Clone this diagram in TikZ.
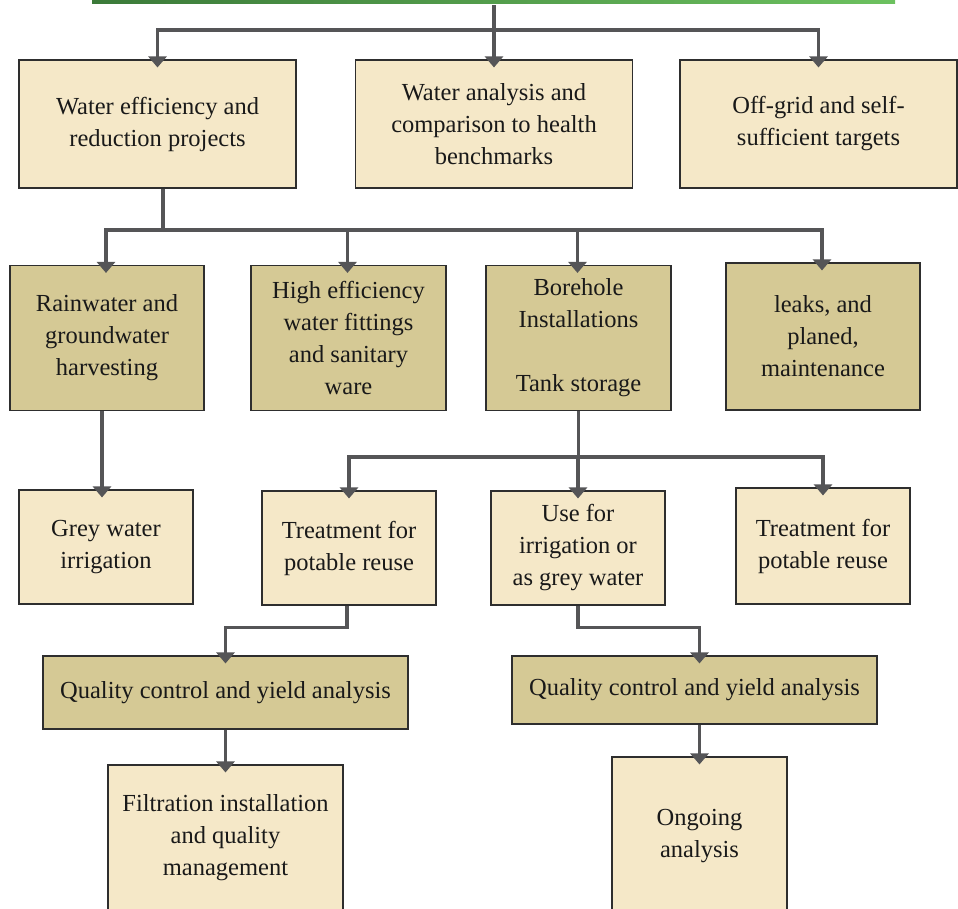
\documentclass[tikz,border=0pt]{standalone}
\usepackage{fontspec}
\setmainfont{Liberation Serif}
\usetikzlibrary{arrows.meta}
\definecolor{lightfill}{HTML}{F5E8C8}
\definecolor{darkfill}{HTML}{D5C995}
\definecolor{linkgray}{HTML}{555557}
\definecolor{boxline}{HTML}{2E2E2E}
\definecolor{greenL}{HTML}{3B7A39}
\definecolor{greenR}{HTML}{6CC15F}

\begin{document}
\begin{tikzpicture}[
    x=1pt, y=-1pt, % pixel grid, y going down
    every node/.style={font=\fontsize{24.5}{32}\selectfont, text=black!90},
    light box/.style={draw=boxline, line width=1.1pt, fill=lightfill, align=center, inner sep=0pt},
    dark box/.style={light box, fill=darkfill},
    link/.style={draw=linkgray, line width=3.2pt, -{Triangle[width=18pt, length=11pt]}, shorten >=-8pt},
    plain link/.style={draw=linkgray, line width=3.2pt}
]

    % --- 1. FRAME AND TOP BAR ---
    \path[use as bounding box] (0,0) rectangle (958,908);
    \clip (0,0) rectangle (958,908);
    \shade[left color=greenL, right color=greenR] (92,0) rectangle (895,3);

    % --- 2. ROW HEIGHTS ---
    \def\rowA{124}
    \def\rowB{338}
    \def\rowC{548}

    % ==========================================
    % FIRST ROW
    % ==========================================
    \node[light box, minimum width=277pt, minimum height=128pt] (wa) at (157.5,\rowA)
        {Water efficiency and\\reduction projects};
    \node[light box, minimum width=277pt, minimum height=128pt] (wb) at (494,\rowA)
        {Water analysis and\\comparison to health\\benchmarks};
    \node[light box, minimum width=277pt, minimum height=128pt] (wc) at (818.5,\rowA)
        {Off-grid and self-\\sufficient targets};

    % ==========================================
    % SECOND ROW
    % ==========================================
    \node[dark box, minimum width=194pt, minimum height=145pt] (rg) at (107,\rowB)
        {Rainwater and\\groundwater\\harvesting};
    \node[dark box, minimum width=195pt, minimum height=145pt] (hf) at (348.5,\rowB)
        {High efficiency\\water fittings\\and sanitary\\ware};
    \node[dark box, minimum width=185pt, minimum height=145pt] (bh) at (578.5,\rowB)
        {Borehole\\Installations\\[32pt]Tank storage};
    \node[dark box, minimum width=194pt, minimum height=147pt] (lk) at (823,336.5)
        {leaks, and\\planed,\\maintenance};

    % ==========================================
    % THIRD ROW
    % ==========================================
    \node[light box, minimum width=174pt, minimum height=114pt] (gw) at (106,547)
        {Grey water\\irrigation};
    \node[light box, minimum width=174pt, minimum height=114pt] (tpa) at (349,\rowC)
        {Treatment for\\potable reuse};
    \node[light box, minimum width=174pt, minimum height=114pt] (ug) at (578,\rowC)
        {Use for\\irrigation or\\as grey water};
    \node[light box, minimum width=174pt, minimum height=116pt] (tpb) at (823,546)
        {Treatment for\\potable reuse};

    % ==========================================
    % FOURTH AND FIFTH ROW
    % ==========================================
    \node[dark box, minimum width=365pt, minimum height=73pt] (qca) at (225.5,692.5)
        {Quality control and yield analysis};
    \node[dark box, minimum width=365pt, minimum height=68pt] (qcb) at (694.5,690)
        {Quality control and yield analysis};
    \node[light box, minimum width=235pt, minimum height=146pt] (fi) at (225.5,838)
        {Filtration installation\\and quality\\management};
    \node[light box, minimum width=175pt, minimum height=158pt] (og) at (699.5,836)
        {Ongoing\\analysis};

    % --- 3. CONNECTORS ---
    \coordinate (top) at (494,5);
    \coordinate (busA) at (494,30);
    \coordinate (busB) at (163,230);
    \coordinate (busC) at (578.5,457);

    \draw[link] (top) -- (wb.north);
    \draw[link] (busA) -| (wa.north);
    \draw[link] (busA) -| (wc.north);

    \draw[plain link] ([xshift=5.5pt]wa.south) -- (busB);
    \foreach \n in {rg,hf,bh,lk}
        \draw[link] (busB) -| ([xshift=-1pt]\n.north);

    \draw[link] ([xshift=-5pt]rg.south) -- ([xshift=-5pt]rg.south |- gw.north);

    \draw[plain link] (bh.south) -- (busC);
    \foreach \n in {tpa,ug,tpb}
        \draw[link] (busC) -| (\n.north);

    \draw[link] ([xshift=-2pt]tpa.south) -- ++(0,22) -| (qca.north);
    \draw[link] (ug.south) -- ++(0,22) -| ([xshift=5pt]qcb.north);

    \draw[link] (qca.south) -- (fi.north);
    \draw[link] (qcb.south -| og.north) -- (og.north);

\end{tikzpicture}
\end{document}
